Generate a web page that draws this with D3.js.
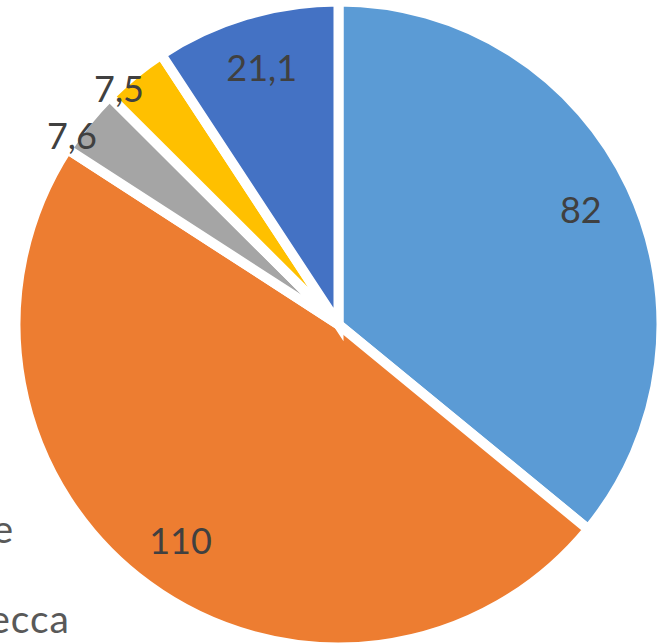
<!DOCTYPE html>
<html>
<head>
<meta charset="utf-8">
<script src="https://cdn.jsdelivr.net/npm/d3@7"></script>
<style>
  html, body { margin: 0; padding: 0; background: #ffffff; }
  svg { display: block; }
</style>
</head>
<body>
<svg id="chart" width="662" height="643"></svg>
<script>
// Slice values, clockwise from 12 o'clock
const values = [82, 110, 7.6, 7.5, 21.1];
// Legend entries (only their tail ends fall inside the view)
const legendLabels = ["e", "ecca"];
// Office palette, one colour per slice
const sliceColors = ["#5B9BD5", "#ED7D31", "#A5A5A5", "#FFC000", "#4472C4"];

const width = 662, height = 643;
const cx = 338.5, cy = 324.5;
const radius = 318;
const gap = 10;

const svg = d3.select("#chart");
const g = svg.append("g").attr("transform", `translate(${cx},${cy})`);

const color = d3.scaleOrdinal().domain(d3.range(values.length)).range(sliceColors);

const pie = d3.pie().value(d => d).sort(null).startAngle(0).endAngle(2 * Math.PI);
const arcs = pie(values);

const arc = d3.arc().innerRadius(0).outerRadius(radius + gap / 2);
const inLabelArc = d3.arc().innerRadius(268).outerRadius(268);
const outLabelArc = d3.arc().innerRadius(322).outerRadius(322);

g.selectAll("path.slice")
  .data(arcs)
  .join("path")
  .attr("class", "slice")
  .attr("d", arc)
  .attr("fill", (d, i) => color(i))
  .attr("stroke", "#ffffff")
  .attr("stroke-width", gap)
  .attr("stroke-linejoin", "miter");

const total = d3.sum(values);
const fmt = v => String(v).replace(".", ",");

g.selectAll("text.val")
  .data(arcs)
  .join("text")
  .attr("class", "val")
  .attr("transform", d => {
    const inside = d.value / total > 0.05;
    const [x, y] = inside ? inLabelArc.centroid(d) : outLabelArc.centroid(d);
    return inside ? `translate(${x},${y})` : `translate(${x - 16},${y + 14})`;
  })
  .attr("text-anchor", "middle")
  .attr("dy", "0.36em")
  .attr("font-family", "Lato, 'Open Sans', sans-serif")
  .attr("font-size", 36)
  .attr("fill", "#404040")
  .text(d => fmt(d.value));

// Legend column, cut off at the left edge
const legendY = d3.scalePoint().domain(legendLabels).range([543, 633]);
svg.selectAll("text.legend")
  .data(legendLabels)
  .join("text")
  .attr("class", "legend")
  .attr("x", (d, i) => i === 0 ? 14 : 70)
  .attr("y", d => legendY(d))
  .attr("text-anchor", "end")
  .attr("font-family", "Lato, 'Open Sans', sans-serif")
  .attr("font-size", 39)
  .attr("letter-spacing", 1)
  .attr("fill", "#595959")
  .text(d => d);
</script>
</body>
</html>
